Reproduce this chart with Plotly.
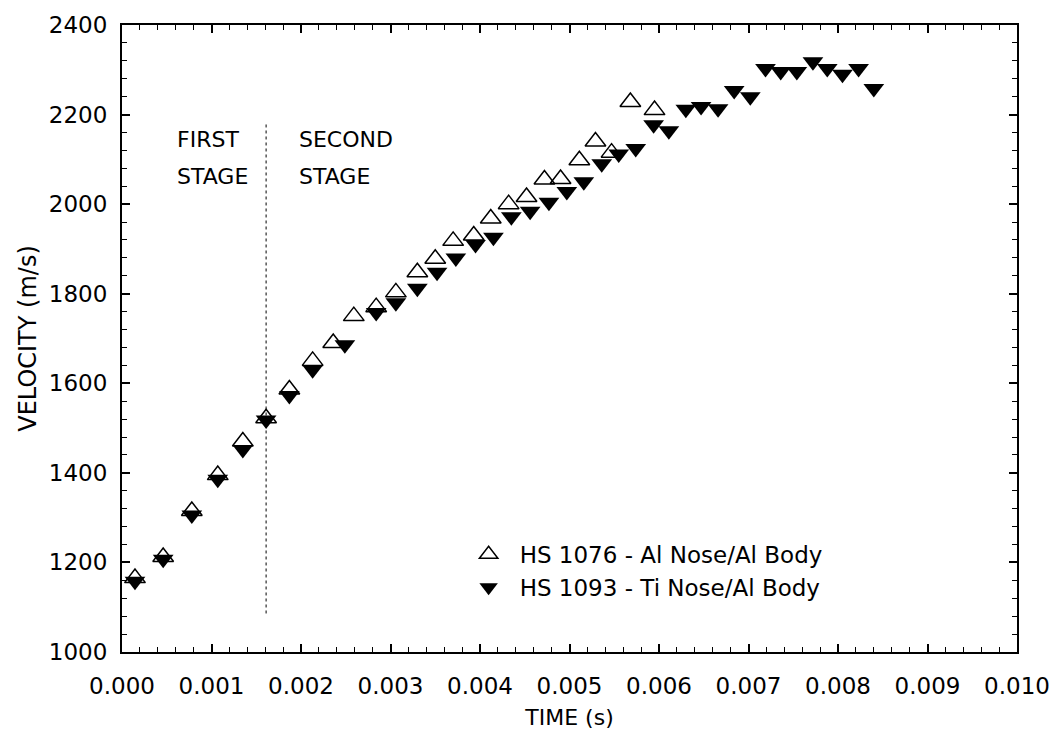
import plotly.graph_objects as go

# HS 1076 - Al nose / Al body (open triangles)
t_al = [0.000145, 0.00046, 0.00078, 0.00107, 0.00135, 0.00161, 0.00187, 0.00213,
        0.00236, 0.00259, 0.00284, 0.00306, 0.00330, 0.00350, 0.00370, 0.00393,
        0.00412, 0.00432, 0.00452, 0.00472, 0.00490, 0.00511, 0.00529, 0.00547,
        0.00568, 0.00595]
v_al = [1165, 1212, 1315, 1395, 1470, 1522, 1586, 1650,
        1690, 1750, 1770, 1803, 1848, 1878, 1918, 1930,
        1968, 2000, 2016, 2055, 2056, 2098, 2140, 2115,
        2228, 2210]

# HS 1093 - Ti nose / Al body (filled triangles)
t_ti = [0.000145, 0.00046, 0.00078, 0.00107, 0.00135, 0.00161, 0.00187, 0.00213,
        0.00249, 0.00284, 0.00306, 0.00330, 0.00352, 0.00373, 0.00395, 0.00415,
        0.00435, 0.00456, 0.00477, 0.00497, 0.00516, 0.00536, 0.00555, 0.00574,
        0.00594, 0.00611, 0.00630, 0.00647, 0.00666, 0.00684, 0.00702, 0.00719,
        0.00736, 0.00754, 0.00772, 0.00788, 0.00805, 0.00823, 0.00840]
v_ti = [1158, 1207, 1306, 1386, 1452, 1518, 1573, 1630,
        1686, 1758, 1780, 1812, 1848, 1880, 1910, 1926,
        1972, 1984, 2004, 2028, 2050, 2090, 2112, 2124,
        2177, 2164, 2212, 2218, 2213, 2254, 2240, 2303,
        2296, 2296, 2318, 2303, 2290, 2303, 2258]

# stage separation time and extent of the marker line
t_stage = 0.00161
stage_line_v = [1086, 2180]

names = ["HS 1076 - Al Nose/Al Body", "HS 1093 - Ti Nose/Al Body"]

FONT = "DejaVu Sans"

fig = go.Figure()

fig.add_trace(go.Scatter(
    x=[t_stage, t_stage], y=stage_line_v, mode="lines",
    line=dict(color="black", width=1, dash="3px,3px"),
    showlegend=False, hoverinfo="skip"))

fig.add_trace(go.Scatter(
    x=t_ti, y=v_ti, mode="markers", name=names[1], legendgroup="ti", legendrank=2,
    marker=dict(symbol="triangle-down", size=18, color="black",
                line=dict(width=0))))

fig.add_trace(go.Scatter(
    x=t_al, y=v_al, mode="markers", name=names[0], legendgroup="al", legendrank=1,
    marker=dict(symbol="triangle-up-open", size=18, color="black",
                line=dict(width=1.5, color="black"))))

axis_common = dict(
    showline=True, linecolor="black", linewidth=2, mirror="allticks",
    ticks="inside", ticklen=8, tickwidth=1.5, tickcolor="black",
    showgrid=False, zeroline=False,
    tickfont=dict(family=FONT, size=23, color="black"),
)

fig.update_xaxes(
    range=[0, 0.010], tickvals=[i / 1000 for i in range(11)],
    ticktext=[f"{i / 1000:.3f}" for i in range(11)],
    minor=dict(ticks="inside", dtick=0.0002, ticklen=5, tickcolor="black", tickwidth=1),
    ticklabelstandoff=12,
    title=dict(text="TIME (s)", font=dict(family=FONT, size=22, color="black"), standoff=12),
    **axis_common)

fig.update_yaxes(
    range=[1000, 2400], tickvals=list(range(1000, 2401, 200)),
    minor=dict(ticks="inside", dtick=40, ticklen=5, tickcolor="black", tickwidth=1),
    ticklabelstandoff=8,
    title=dict(text="VELOCITY (m/s)", font=dict(family=FONT, size=24, color="black"), standoff=5),
    **axis_common)

annot_font = dict(family=FONT, size=22, color="black")
for txt, x, y in [("FIRST", 0.00059, 2145), ("STAGE", 0.00059, 2062),
                  ("SECOND", 0.00196, 2145), ("STAGE", 0.00196, 2062)]:
    fig.add_annotation(x=x, y=y, text=txt, showarrow=False, font=annot_font,
                       xref="x", yref="y", xanchor="left")

fig.update_layout(
    width=1062, height=739,
    margin=dict(l=122, r=42, t=17, b=87),
    paper_bgcolor="white", plot_bgcolor="white",
    legend=dict(x=0.375, y=0.19, xanchor="left", yanchor="top",
                font=dict(family=FONT, size=23, color="black"),
                bgcolor="rgba(0,0,0,0)", itemwidth=52, traceorder="grouped",
                tracegroupgap=0),
    showlegend=True,
)

fig.write_html("out.html")
